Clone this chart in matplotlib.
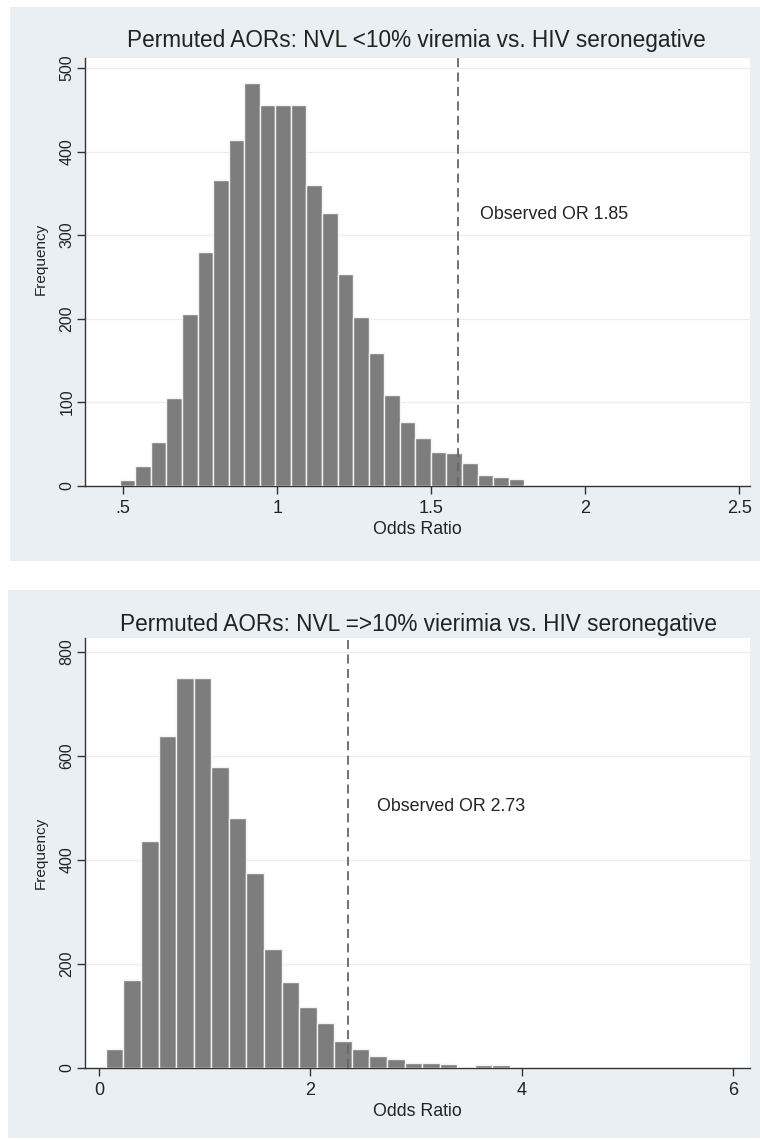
import matplotlib
matplotlib.use("Agg")
import matplotlib.pyplot as plt
from matplotlib.patches import Rectangle
import numpy as np

plt.rcParams['font.family'] = ['Liberation Sans', 'DejaVu Sans']

# ---- Data: top panel (NVL <10% viremia) ----
top_title = "Permuted AORs: NVL <10% viremia vs. HIV seronegative"
top_bin_start = 0.489
top_bin_width = 0.0505
top_counts = [7, 24, 52, 105, 205, 280, 366, 414, 482, 456, 456, 456, 360,
              326, 254, 202, 159, 108, 76, 57, 40, 39, 27, 13, 11, 8]
top_obs_line = 1.588
top_obs_label = "Observed OR 1.85"
top_xticks = [0.5, 1, 1.5, 2, 2.5]
top_xticklabels = [".5", "1", "1.5", "2", "2.5"]
top_yticks = [0, 100, 200, 300, 400, 500]

# ---- Data: bottom panel (NVL =>10% viremia) ----
bot_title = "Permuted AORs: NVL =>10% vierimia vs. HIV seronegative"
bot_bin_start = 0.066
bot_bin_width = 0.1662
bot_counts = [37, 170, 436, 638, 749, 749, 578, 480, 374, 229, 165, 118, 86,
              51, 37, 23, 17, 10, 10, 7, 0, 5, 5]
bot_obs_line = 2.359
bot_obs_label = "Observed OR 2.73"
bot_xticks = [0, 2, 4, 6]
bot_xticklabels = ["0", "2", "4", "6"]
bot_yticks = [0, 200, 400, 600, 800]

W, H = 760, 1140
fig = plt.figure(figsize=(W / 100, H / 100), dpi=100)
fig.patch.set_facecolor('white')

panel_color = '#e9eff2'

def px_rect(x0, y0, x1, y1):
    return [x0 / W, 1 - y1 / H, (x1 - x0) / W, (y1 - y0) / H]

# panel backgrounds
for (x0, y0, x1, y1) in [(10, 7, 760, 561), (8, 590, 760, 1138)]:
    r = Rectangle((x0 / W, 1 - y1 / H), (x1 - x0) / W, (y1 - y0) / H,
                  transform=fig.transFigure, facecolor=panel_color,
                  edgecolor='none', zorder=-10)
    fig.patches.append(r)


def draw(ax, counts, start, width, xlim, ylim, xticks, xticklabels, yticks,
         vline, label, label_xy, ylabel_y):
    edges = start + width * np.arange(len(counts))
    ax.set_facecolor('white')
    ax.bar(edges, counts, width=width, align='edge', color='#7d7d7d',
           edgecolor='#f4f4f4', linewidth=1.0, zorder=3)
    ax.axvline(vline, color='#666666', linestyle=(0, (5, 3)), linewidth=1.3,
               zorder=4)
    ax.text(label_xy[0], label_xy[1], label, fontsize=12.8, color='#222222',
            va='center', ha='left')
    ax.set_xlim(*xlim)
    ax.set_ylim(*ylim)
    ax.set_xticks(xticks)
    ax.set_xticklabels(xticklabels)
    ax.set_yticks(yticks)
    ax.set_yticklabels([str(v) for v in yticks], rotation=90, va='center',
                       fontsize=11.5)
    for v in yticks[1:]:
        ax.axhline(v, color='#ececec', linewidth=0.9, zorder=1)
    for s in ['top', 'right']:
        ax.spines[s].set_visible(False)
    for s in ['left', 'bottom']:
        ax.spines[s].set_color('#333333')
        ax.spines[s].set_linewidth(1.0)
    ax.tick_params(axis='both', direction='out', length=6, width=1.0,
                   color='#333333', labelcolor='#222222')
    ax.tick_params(axis='x', labelsize=13, pad=4)
    ax.tick_params(axis='y', pad=1.5)
    ax.set_xlabel("Odds Ratio", fontsize=12.8, color='#222222', labelpad=3)
    ax.set_ylabel("Frequency", fontsize=11, color='#222222')
    ax.yaxis.set_label_coords(-0.056, ylabel_y)


ax1 = fig.add_axes(px_rect(85, 58, 750, 485.7))
draw(ax1, top_counts, top_bin_start, top_bin_width, (0.376, 2.535), (0, 512),
     top_xticks, top_xticklabels, top_yticks, top_obs_line, top_obs_label,
     (1.658, 325), 0.53)
fig.text(416 / W, 1 - 41 / H, top_title, ha='center', va='center',
         fontsize=16.3, color='#222222')

ax2 = fig.add_axes(px_rect(85, 638, 750, 1068))
draw(ax2, bot_counts, bot_bin_start, bot_bin_width, (-0.132, 6.16), (0, 826),
     bot_xticks, bot_xticklabels, bot_yticks, bot_obs_line, bot_obs_label,
     (2.627, 502), 0.5)
fig.text(419 / W, 1 - 625 / H, bot_title, ha='center', va='center',
         fontsize=16.3, color='#222222')

fig.savefig("out.png", dpi=100)
